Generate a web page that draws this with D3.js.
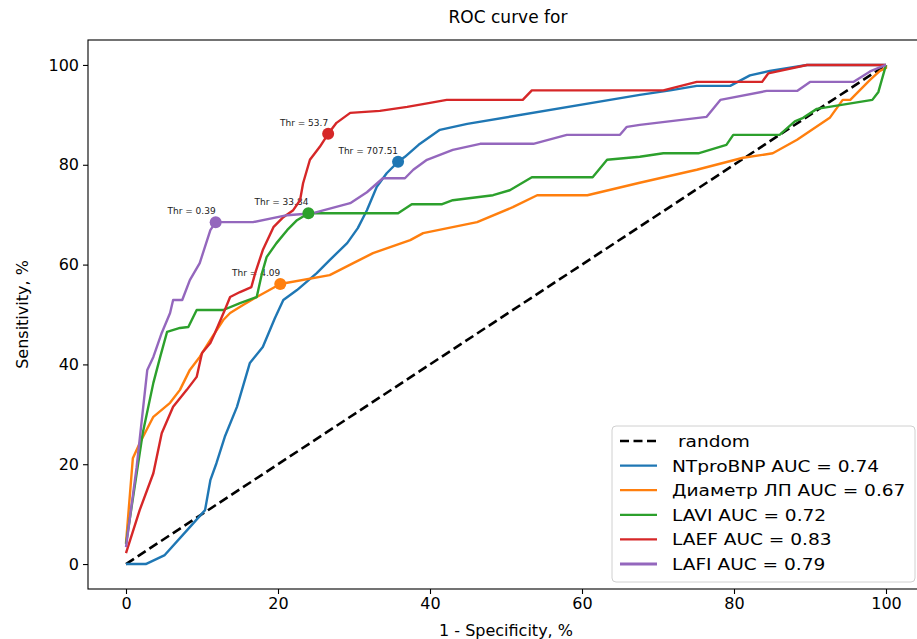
<!DOCTYPE html>
<html>
<head>
<meta charset="utf-8">
<script src="https://cdn.jsdelivr.net/npm/d3@7"></script>
<style>
  html, body { margin: 0; padding: 0; background: #fff; }
  svg { display: block; font-family: "DejaVu Sans", sans-serif; }
</style>
</head>
<body>
<svg id="chart" width="917" height="639"></svg>
<script>
// ROC curves: false positive rate (1 - specificity, %) vs true positive rate (sensitivity, %)
const seriesNames = ["NTproBNP", "Диаметр ЛП", "LAVI", "LAEF", "LAFI"];
const aucValues = [0.74, 0.67, 0.72, 0.83, 0.79];
const seriesColors = ["#1f77b4", "#ff7f0e", "#2ca02c", "#d62728", "#9467bd"];

const fprNTproBNP = [0, 2.6, 5.1, 8.4, 10.4, 11.1, 11.9, 13, 14.6, 16.3, 18, 19.6, 20.7, 22.5, 25.1, 26.8, 29.1, 30.5, 31.7, 33, 34.3, 35.8, 36.7, 38.5, 41.3, 44.9, 67.6, 71.6, 75.1, 79.5, 82.1, 84.7, 89.6, 100];
const tprNTproBNP = [0, 0, 1.8, 7.4, 10.8, 16.8, 20.2, 25.5, 31.5, 40.3, 43.5, 49.3, 52.9, 54.9, 58.3, 60.9, 64.3, 67.3, 70.9, 75.6, 78.3, 80.6, 81.6, 84, 87, 88.2, 94, 94.9, 95.8, 95.8, 97.9, 98.8, 100, 100];

const fprDiam = [0, 0.9, 1.8, 3.6, 5.8, 7.1, 8.4, 9.7, 11.1, 12.8, 13.7, 15.4, 17.2, 20.3, 26.8, 29.9, 32.5, 37.4, 39.1, 46.2, 50.9, 54.1, 60.7, 67.6, 75.1, 81.2, 85.1, 88.3, 92.6, 94.3, 95.3, 97.9, 99.2, 100, 100];
const tprDiam = [4.2, 21.2, 24.2, 29.5, 32.3, 34.9, 38.9, 41.5, 44.9, 48.9, 50.3, 51.9, 53.5, 56.1, 57.9, 60.3, 62.3, 64.9, 66.3, 68.5, 71.5, 73.9, 73.9, 76.4, 79, 81.4, 82.3, 85, 89.4, 93, 93, 97, 98.8, 99.4, 100];

const fprLAVI = [0, 2.2, 3.6, 4.5, 5.4, 7.1, 8.2, 9.3, 12.8, 15, 17.2, 17.9, 18.5, 19.8, 21.2, 22.5, 24, 35.8, 37.6, 41.6, 43, 48.3, 50.5, 53.4, 61.4, 63.3, 67.6, 70.7, 75.3, 79, 79.9, 86, 88, 89.1, 90.9, 98.2, 99, 100];
const tprLAVI = [4, 26.2, 36.3, 41.5, 46.5, 47.3, 47.5, 50.9, 50.9, 52.3, 53.5, 58.3, 61.5, 64.3, 66.9, 68.9, 70.3, 70.3, 72.1, 72.1, 72.9, 73.9, 74.9, 77.5, 77.5, 81, 81.6, 82.3, 82.3, 84, 86, 86, 88.7, 89.4, 91.2, 93, 94.6, 100];

const fprLAEF = [0, 1.8, 3.6, 4.7, 6.2, 8, 9.3, 10, 11.1, 11.7, 13, 13.7, 15, 16.5, 17, 18, 19.4, 20.7, 22, 22.9, 23.3, 24.2, 25.5, 26.6, 27.7, 29.5, 33.4, 37, 40, 42.2, 52.2, 53.4, 70.7, 75.1, 83.7, 84.5, 89.6, 100];
const tprLAEF = [2.2, 10.8, 18.2, 26.2, 31.5, 34.9, 37.5, 42.3, 44.3, 46.3, 50.9, 53.5, 54.5, 55.5, 58.3, 62.9, 67.5, 69.5, 70.9, 72.9, 76.3, 81, 83.6, 86.2, 88.4, 90.4, 90.8, 91.6, 92.4, 93, 93, 94.9, 94.9, 96.6, 96.6, 98.3, 100, 100];

const fprLAFI = [0, 1.4, 2.8, 3.6, 4.7, 5.8, 6.2, 7.4, 8.4, 9.7, 11.1, 11.8, 16.7, 21.2, 24.6, 29.5, 31.7, 33.8, 36.7, 37.8, 39.6, 43, 46.6, 53.6, 58, 65, 65.9, 67.6, 76.4, 78.2, 84.3, 88.3, 90, 95.7, 97.9, 100];
const tprLAFI = [3.4, 19.4, 38.9, 41.5, 46.3, 50.3, 52.9, 52.9, 56.9, 60.3, 66.9, 68.5, 68.5, 69.9, 70.3, 72.3, 74.5, 77.3, 77.3, 79, 81, 83, 84.2, 84.2, 86, 86, 87.6, 88, 89.6, 93, 94.8, 94.8, 96.6, 96.6, 98.7, 100];

// Optimal cut-off point of each curve and its threshold value
const thrFpr = [35.8, 20.3, 24, 26.6, 11.8];
const thrTpr = [80.6, 56.1, 70.3, 86.2, 68.5];
const thrValues = ["707.51", "4.09", "33.84", "53.7", "0.39"];

const randomLine = [[0, 0], [100, 100]];
const xTicks = [0, 20, 40, 60, 80, 100];
const yTicks = [0, 20, 40, 60, 80, 100];

const fprAll = [fprNTproBNP, fprDiam, fprLAVI, fprLAEF, fprLAFI];
const tprAll = [tprNTproBNP, tprDiam, tprLAVI, tprLAEF, tprLAFI];

const svg = d3.select("#chart");
const plot = { left: 88, top: 40, right: 924, bottom: 589 };

const x = d3.scaleLinear().domain([-5, 105]).range([plot.left, plot.right]);
const y = d3.scaleLinear().domain([-5, 105]).range([plot.bottom, plot.top]);

// Title
svg.append("text")
  .attr("x", (plot.left + plot.right) / 2 + 2).attr("y", 23)
  .attr("text-anchor", "middle").attr("font-size", 17).attr("fill", "#000")
  .text("ROC curve for");

// Axes
const xAxis = svg.append("g").attr("transform", `translate(0,${plot.bottom})`)
  .call(d3.axisBottom(x).tickValues(xTicks).tickSize(5).tickPadding(4).tickFormat(d3.format("d")));
const yAxis = svg.append("g").attr("transform", `translate(${plot.left},0)`)
  .call(d3.axisLeft(y).tickValues(yTicks).tickSize(5).tickPadding(4).tickFormat(d3.format("d")));
[xAxis, yAxis].forEach(g => {
  g.select(".domain").remove();
  g.selectAll(".tick line").attr("stroke", "#000").attr("stroke-width", 1.1);
  g.selectAll(".tick text").attr("font-size", 16).attr("fill", "#000").attr("font-family", "DejaVu Sans");
});

// Axis labels
svg.append("text")
  .attr("x", (plot.left + plot.right) / 2).attr("y", 636)
  .attr("text-anchor", "middle").attr("font-size", 16).attr("fill", "#000")
  .text("1 - Specificity, %");
svg.append("text")
  .attr("transform", `translate(28,${(plot.top + plot.bottom) / 2}) rotate(-90)`)
  .attr("text-anchor", "middle").attr("font-size", 16).attr("fill", "#000")
  .text("Sensitivity, %");

// Threshold annotations (placed under the curves)
const ann = svg.append("g");
thrValues.forEach((v, i) => {
  ann.append("text")
    .attr("x", x(thrFpr[i])).attr("y", y(thrTpr[i]) - 8)
    .attr("text-anchor", "end").attr("font-size", 9).attr("fill", "#222")
    .text("Thr = " + v);
});

// Chance diagonal
const line = d3.line().x(d => x(d[0])).y(d => y(d[1]));
svg.append("path").datum(randomLine)
  .attr("d", line).attr("fill", "none")
  .attr("stroke", "#000").attr("stroke-width", 2.6).attr("stroke-dasharray", "9.5,4.5");

// ROC curves
seriesNames.forEach((name, i) => {
  const pts = fprAll[i].map((f, k) => [f, tprAll[i][k]]);
  svg.append("path").datum(pts)
    .attr("d", line).attr("fill", "none")
    .attr("stroke", seriesColors[i]).attr("stroke-width", 2.4)
    .attr("stroke-linejoin", "round");
});

// Cut-off markers
seriesNames.forEach((name, i) => {
  svg.append("circle")
    .attr("cx", x(thrFpr[i])).attr("cy", y(thrTpr[i])).attr("r", 6)
    .attr("fill", seriesColors[i]);
});

// Frame
svg.append("rect")
  .attr("x", plot.left).attr("y", plot.top)
  .attr("width", plot.right - plot.left).attr("height", plot.bottom - plot.top)
  .attr("fill", "none").attr("stroke", "#000").attr("stroke-width", 1.1);

// Legend
const legend = svg.append("g");
legend.append("rect")
  .attr("x", 612).attr("y", 426).attr("width", 303).attr("height", 156).attr("rx", 4)
  .attr("fill", "#fff").attr("fill-opacity", 0.85).attr("stroke", "#d0d0d0");
const legendItems = [{ label: "\u00a0random", color: "#000", dash: "9,4.5", w: 2.6 }]
  .concat(seriesNames.map((n, i) => ({ label: `${n} AUC = ${aucValues[i].toFixed(2)}`, color: seriesColors[i], dash: null, w: i === 4 ? 3.2 : 2.3 })));
legendItems.forEach((d, i) => {
  const cy = 441 + i * 24.6;
  legend.append("line")
    .attr("x1", 620).attr("x2", 657).attr("y1", cy).attr("y2", cy)
    .attr("stroke", d.color).attr("stroke-width", d.w)
    .attr("stroke-dasharray", d.dash);
  // legend labels are set slightly wide
  legend.append("text")
    .attr("transform", `translate(672,${cy + 6}) scale(1.16,1)`)
    .attr("font-size", 16).attr("fill", "#000")
    .text(d.label);
});
</script>
</body>
</html>
